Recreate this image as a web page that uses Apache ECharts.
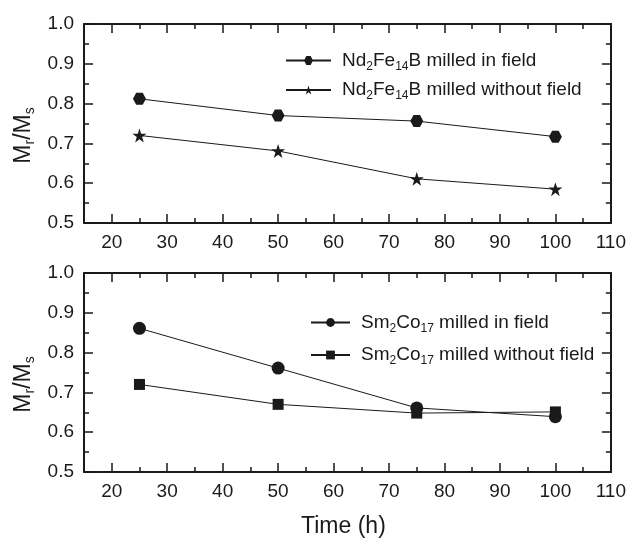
<!DOCTYPE html>
<html>
<head>
<meta charset="utf-8">
<script src="https://cdn.jsdelivr.net/npm/echarts@6/dist/echarts.min.js"></script>
<style>
html,body{margin:0;padding:0;background:#fff;}
#chart{width:629px;height:539px;}
</style>
</head>
<body>
<div id="chart"></div>
<script>
// ---- data ----
var times = [25, 50, 75, 100];
var ndInField = [0.812, 0.770, 0.756, 0.717];
var ndWithoutField = [0.720, 0.681, 0.611, 0.585];
var smInField = [0.861, 0.761, 0.661, 0.639];
var smWithoutField = [0.720, 0.670, 0.648, 0.651];
var xMajorTicks = [20, 30, 40, 50, 60, 70, 80, 90, 100, 110];
var xMinorTicks = [15, 25, 35, 45, 55, 65, 75, 85, 95, 105];
var seriesNames = ['Nd2Fe14B milled in field', 'Nd2Fe14B milled without field',
                   'Sm2Co17 milled in field', 'Sm2Co17 milled without field'];

var FONT = '"Liberation Sans", Arial, Helvetica, sans-serif';
var INK = '#1a1a1a';

function pairs(xs, ys) { return xs.map(function (x, i) { return [x, ys[i]]; }); }

var hexPath = 'path://M-1,0 L-0.5,-0.866 L0.5,-0.866 L1,0 L0.5,0.866 L-0.5,0.866 Z';
var starPath = 'path://M0,-1 L0.2245,-0.309 L0.951,-0.309 L0.363,0.118 L0.588,0.809 L0,0.382 L-0.588,0.809 L-0.363,0.118 L-0.951,-0.309 L-0.2245,-0.309 Z';

var legendRich = {
  n: { fontSize: 19, fontFamily: FONT, color: INK },
  p: { fontSize: 19, fontFamily: FONT, color: INK, padding: [0, 0, 0, 6] },
  s: { fontSize: 12, fontFamily: FONT, color: INK, padding: [12, 0, 0, 0] }
};
function legendFmt(name) {
  var m = {};
  m[seriesNames[0]] = '{p|Nd}{s|2}{n|Fe}{s|14}{n|B milled in field}';
  m[seriesNames[1]] = '{p|Nd}{s|2}{n|Fe}{s|14}{n|B milled without field}';
  m[seriesNames[2]] = '{p|Sm}{s|2}{n|Co}{s|17}{n| milled in field}';
  m[seriesNames[3]] = '{p|Sm}{s|2}{n|Co}{s|17}{n| milled without field}';
  return m[name];
}

function xAxesFor(gridIndex, withLabels) {
  var base = {
    type: 'value', gridIndex: gridIndex, min: 15, max: 110,
    splitLine: { show: false }
  };
  return [
    Object.assign({}, base, {
      position: 'bottom',
      axisLine: { show: true, onZero: false, lineStyle: { color: INK, width: 2 } },
      axisTick: { show: true, inside: true, length: 9, customValues: xMajorTicks, lineStyle: { color: INK, width: 1.5 } },
      axisLabel: { show: true, customValues: xMajorTicks, fontSize: 19, fontFamily: FONT, color: INK, margin: 10 },
      name: withLabels ? 'Time (h)' : '',
      nameLocation: 'middle', nameGap: 43,
      nameTextStyle: { fontSize: 23, fontFamily: FONT, color: INK, padding: [0, 8, 0, 0] }
    }),
    Object.assign({}, base, {
      position: 'bottom',
      axisLine: { show: false, onZero: false },
      axisTick: { show: true, inside: true, length: 5, customValues: xMinorTicks, lineStyle: { color: INK, width: 1.5 } },
      axisLabel: { show: false }
    }),
    Object.assign({}, base, {
      position: 'top',
      axisLine: { show: true, onZero: false, lineStyle: { color: INK, width: 2 } },
      axisTick: { show: true, inside: true, length: 9, customValues: xMajorTicks, lineStyle: { color: INK, width: 1.5 } },
      axisLabel: { show: false }
    }),
    Object.assign({}, base, {
      position: 'top',
      axisLine: { show: false, onZero: false },
      axisTick: { show: true, inside: true, length: 5, customValues: xMinorTicks, lineStyle: { color: INK, width: 1.5 } },
      axisLabel: { show: false }
    })
  ];
}

function yAxesFor(gridIndex) {
  var base = {
    type: 'value', gridIndex: gridIndex, min: 0.5, max: 1.0, interval: 0.1,
    splitLine: { show: false }, minorSplitLine: { show: false },
    minorTick: { show: true, splitNumber: 2, length: 5, lineStyle: { color: INK, width: 1.5 } }
  };
  return [
    Object.assign({}, base, {
      position: 'left',
      axisLine: { show: true, onZero: false, lineStyle: { color: INK, width: 2 } },
      axisTick: { show: true, inside: true, length: 9, lineStyle: { color: INK, width: 1.5 } },
      axisLabel: { show: true, fontSize: 19, fontFamily: FONT, color: INK, margin: 10,
        formatter: function (v) { return v.toFixed(1); } },
      name: '{n|M}{s|r}{n|/M}{s|s}',
      nameLocation: 'middle', nameRotate: 90, nameGap: 44,
      nameTextStyle: {
        fontFamily: FONT, color: INK, padding: [0, 24, 0, 0],
        rich: {
          n: { fontSize: 23, fontFamily: FONT, color: INK },
          s: { fontSize: 14, fontFamily: FONT, color: INK, padding: [13, 0, 0, 0] }
        }
      }
    }),
    Object.assign({}, base, {
      position: 'right',
      axisLine: { show: true, onZero: false, lineStyle: { color: INK, width: 2 } },
      axisTick: { show: true, inside: true, length: 9, lineStyle: { color: INK, width: 1.5 } },
      axisLabel: { show: false }
    })
  ];
}

var xAxes = xAxesFor(0, false).concat(xAxesFor(1, true));
var yAxes = yAxesFor(0).concat(yAxesFor(1));

function lineSeries(name, data, xi, yi, symbol, size) {
  return {
    name: name, type: 'line', xAxisIndex: xi, yAxisIndex: yi,
    data: data, symbol: symbol, symbolSize: size, showSymbol: true,
    lineStyle: { color: INK, width: 1 },
    itemStyle: { color: INK, borderWidth: 0 },
    emphasis: { disabled: true },
    animation: false, z: 3
  };
}

var option = {
  backgroundColor: '#ffffff',
  animation: false,
  grid: [
    { left: 84, top: 24, right: 17, height: 199, containLabel: false },
    { left: 84, top: 273, right: 17, height: 199, containLabel: false }
  ],
  xAxis: xAxes,
  yAxis: yAxes,
  legend: [
    {
      data: [seriesNames[0], seriesNames[1]],
      orient: 'vertical', left: 285, top: 51, padding: 0,
      itemWidth: 45, itemHeight: 11, itemGap: 8,
      formatter: legendFmt,
      textStyle: { rich: legendRich },
      selectedMode: false
    },
    {
      data: [seriesNames[2], seriesNames[3]],
      orient: 'vertical', left: 310, top: 313, padding: 0,
      itemWidth: 39, itemHeight: 11, itemGap: 11,
      formatter: legendFmt,
      textStyle: { rich: legendRich },
      selectedMode: false
    }
  ],
  series: [
    lineSeries(seriesNames[0], pairs(times, ndInField), 0, 0, hexPath, [13, 12]),
    lineSeries(seriesNames[1], pairs(times, ndWithoutField), 0, 0, starPath, 14),
    lineSeries(seriesNames[2], pairs(times, smInField), 4, 2, 'circle', 13),
    lineSeries(seriesNames[3], pairs(times, smWithoutField), 4, 2, 'rect', 11)
  ]
};

var chart = echarts.init(document.getElementById('chart'), null, { renderer: 'canvas' });
chart.setOption(option);
</script>
</body>
</html>
